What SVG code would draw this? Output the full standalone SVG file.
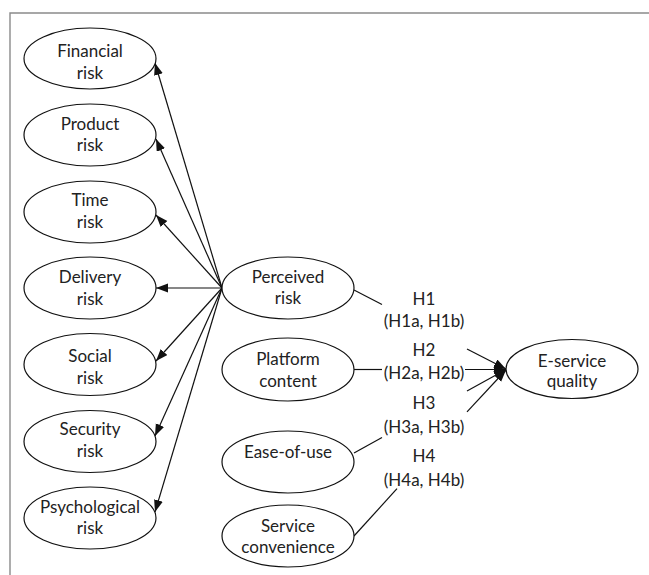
<svg xmlns="http://www.w3.org/2000/svg" width="649" height="575" viewBox="0 0 649 575">
<defs>
<style>
.frame{stroke:#8a8a8a;stroke-width:1.4;fill:none}
.node ellipse{fill:#fff;stroke:#111;stroke-width:1.2}
text{font-family:Lato,"Open Sans","Liberation Sans",sans-serif;font-size:17px;fill:#222;text-anchor:middle}
.conn line{stroke:#111;stroke-width:1.2;fill:none}
.arr{marker-end:url(#ah)}
</style>
<marker id="ah" markerUnits="userSpaceOnUse" markerWidth="13" markerHeight="10" refX="12" refY="4.5" orient="auto">
<path d="M0,0 L12,4.5 L0,9 z" fill="#111"/>
</marker>
</defs>
<rect width="649" height="575" fill="#fff"/>
<path class="frame" d="M10,575 V13 H649"/>
<g class="conn">
<line class="arr" x1="222" y1="288" x2="155" y2="63"/>
<line class="arr" x1="222" y1="288" x2="156" y2="139"/>
<line class="arr" x1="222" y1="288" x2="156" y2="215"/>
<line class="arr" x1="222" y1="288" x2="156" y2="288"/>
<line class="arr" x1="222" y1="288" x2="156" y2="361"/>
<line class="arr" x1="222" y1="288" x2="155" y2="436"/>
<line class="arr" x1="222" y1="288" x2="155" y2="512"/>
<line x1="354" y1="290" x2="382" y2="304.5"/>
<line class="arr" x1="467" y1="349" x2="506" y2="369"/>
<line x1="354" y1="369.5" x2="382" y2="369.5"/>
<line class="arr" x1="465" y1="369.5" x2="506" y2="369.5"/>
<line x1="354" y1="453" x2="382" y2="437.5"/>
<line class="arr" x1="467" y1="391" x2="506" y2="369.5"/>
<line x1="354" y1="536" x2="397" y2="488.7"/>
<line class="arr" x1="467" y1="411.8" x2="506" y2="370"/>
</g>
<g id="financial" class="node"><ellipse cx="90" cy="58.5" rx="66" ry="30.5"/><text x="90" y="56.5">Financial</text><text x="90" y="78.5">risk</text></g>
<g id="product" class="node"><ellipse cx="90" cy="135" rx="66" ry="31"/><text x="90" y="129.5">Product</text><text x="90" y="151">risk</text></g>
<g id="time" class="node"><ellipse cx="90" cy="212" rx="66" ry="31"/><text x="90" y="206">Time</text><text x="90" y="227.5">risk</text></g>
<g id="delivery" class="node"><ellipse cx="90" cy="288" rx="66" ry="31"/><text x="90" y="283">Delivery</text><text x="90" y="305">risk</text></g>
<g id="social" class="node"><ellipse cx="90" cy="364.5" rx="66" ry="31"/><text x="90" y="362">Social</text><text x="90" y="384">risk</text></g>
<g id="security" class="node"><ellipse cx="90" cy="441.5" rx="66" ry="31"/><text x="90" y="435">Security</text><text x="90" y="456.5">risk</text></g>
<g id="psychological" class="node"><ellipse cx="90" cy="518" rx="66" ry="31"/><text x="90" y="512.5">Psychological</text><text x="90" y="533.5">risk</text></g>
<g id="perceived" class="node"><ellipse cx="288" cy="288" rx="66" ry="31"/><text x="288" y="282.5">Perceived</text><text x="288" y="304">risk</text></g>
<g id="platform" class="node"><ellipse cx="288" cy="369.5" rx="66" ry="31.5"/><text x="288" y="365">Platform</text><text x="288" y="387">content</text></g>
<g id="ease" class="node"><ellipse cx="288" cy="462" rx="66" ry="31"/><text x="288" y="458">Ease-of-use</text></g>
<g id="convenience" class="node"><ellipse cx="288" cy="536" rx="66" ry="31"/><text x="288" y="532">Service</text><text x="288" y="553">convenience</text></g>
<g id="eservice" class="node"><ellipse cx="572" cy="369" rx="66" ry="29.5"/><text x="572" y="367">E-service</text><text x="572" y="387">quality</text></g>
<g id="labels">
<text x="424" y="305">H1</text><text x="424" y="327">(H1a, H1b)</text>
<text x="424" y="356">H2</text><text x="424" y="379">(H2a, H2b)</text>
<text x="424" y="409">H3</text><text x="424" y="432.5">(H3a, H3b)</text>
<text x="424" y="462">H4</text><text x="424" y="486">(H4a, H4b)</text>
</g>
</svg>
